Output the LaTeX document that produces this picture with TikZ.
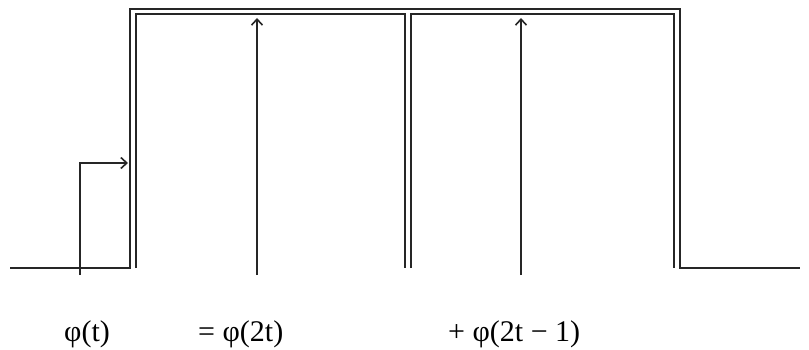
\documentclass[tikz,border=0pt]{standalone}
\usepackage{fontspec}
\setmainfont{Liberation Serif}
\usetikzlibrary{arrows.meta}
\begin{document}
\begin{tikzpicture}[x=1pt,y=-1pt,
  sig/.style={line width=1.5pt,draw=black!85},
  arr/.style={line width=1.5pt,draw=black!85,-{Straight Barb[length=6pt,width=11pt,line width=1.6pt]}},
  lab/.style={anchor=base west,inner sep=0pt,font=\fontsize{30}{36}\selectfont}]
\useasboundingbox (0,0) rectangle (809,350);
% phi(t)
\coordinate (a0) at (10,268);
\coordinate (a1) at (130,268);
\coordinate (a2) at (130,9);
\coordinate (a3) at (680,9);
\coordinate (a4) at (680,268);
\coordinate (a5) at (800,268);
\draw[sig] (a0) -- (a1) -- (a2) -- (a3) -- (a4) -- (a5);
% phi(2t)
\coordinate (b0) at (136,268);
\coordinate (b1) at (136,14);
\coordinate (b2) at (405,14);
\coordinate (b3) at (405,268);
\draw[sig] (b0) -- (b1) -- (b2) -- (b3);
% phi(2t-1)
\coordinate (c0) at (411,268);
\coordinate (c1) at (411,14);
\coordinate (c2) at (674,14);
\coordinate (c3) at (674,268);
\draw[sig] (c0) -- (c1) -- (c2) -- (c3);
% arrows
\coordinate (p0) at (80,275);
\coordinate (p1) at (80,163);
\coordinate (p2) at (128,163);
\draw[arr] (p0) -- (p1) -- (p2);
\coordinate (q0) at (257,275);
\coordinate (q1) at (257,18);
\draw[arr] (q0) -- (q1);
\coordinate (r0) at (521,275);
\coordinate (r1) at (521,18);
\draw[arr] (r0) -- (r1);
% labels
\node[lab] (l1) at (64,341) {φ(t)};
\node[lab] (l2) at (198,341) {= φ(2t)};
\node[lab] (l3) at (448,341) {+ φ(2t − 1)};
\end{tikzpicture}
\end{document}
